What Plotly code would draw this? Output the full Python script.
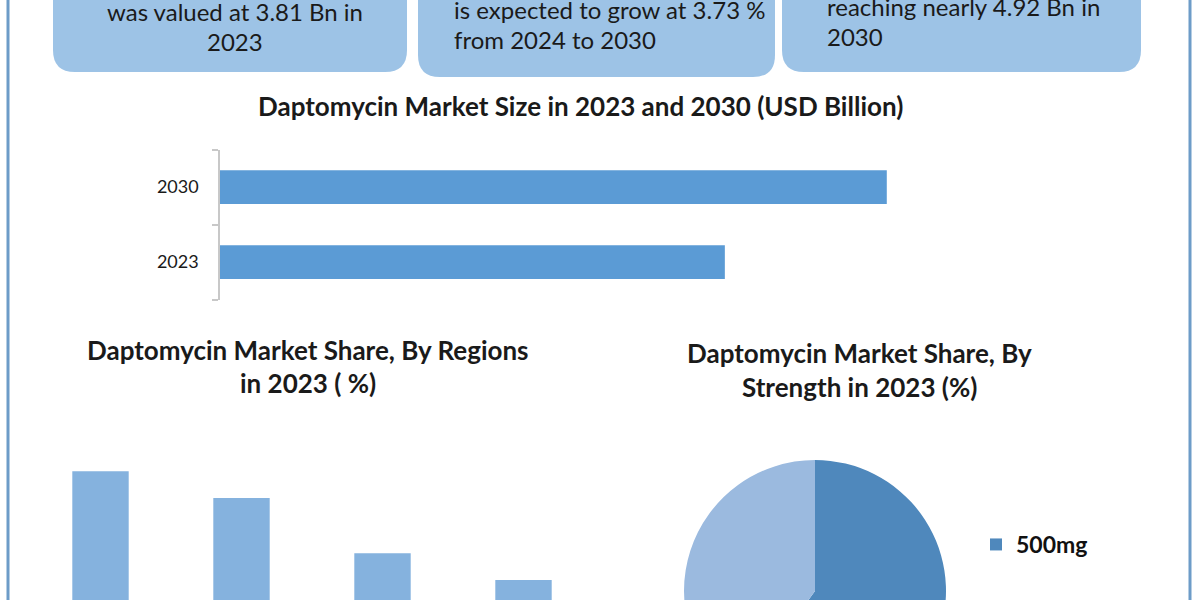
import plotly.graph_objects as go

# ---------------- data ----------------
size_years = ["2023", "2030"]
size_values = [3.81, 4.92]          # USD Billion

regions = ["North America", "Europe", "Asia Pacific", "Middle East and Africa"]
region_share = [34.6, 29.1, 17.8, 12.3]   # % (estimated, baseline cropped)

strengths = ["500mg", "350mg"]
strength_share = [60, 40]           # % (estimated)

box_texts = [
    ["was valued at 3.81 Bn in", "2023"],
    ["is expected to grow at 3.73 %", "from 2024 to 2030"],
    ["reaching nearly 4.92 Bn in", "2030"],
]
title_size = "Daptomycin Market Size in 2023 and 2030 (USD Billion)"
title_regions = ["Daptomycin Market Share, By Regions", "in 2023 ( %)"]
title_strength = ["Daptomycin Market Share, By", "Strength in 2023 (%)"]

# ---------------- geometry helpers ----------------
W, H = 1200, 900
def X(px):
    return px / W
def Y(py):
    return 1 - py / H

FONT = "Lato"
TXT = "#1a1a1a"

fig = go.Figure()

# pie (strength)
fig.add_trace(go.Pie(
    labels=strengths, values=strength_share,
    marker=dict(colors=["#4F88BC", "#9BBADF"], line=dict(width=0)),
    sort=False, direction="clockwise", rotation=0,
    textinfo="none", hoverinfo="label+percent",
    domain=dict(x=[X(684), X(946)], y=[Y(722), Y(460)]),
    showlegend=True,
))

# horizontal bars (market size)
fig.add_trace(go.Bar(
    y=size_years, x=size_values, orientation="h",
    marker=dict(color="#5B9BD5", line=dict(width=0)),
    width=0.45, xaxis="x", yaxis="y", showlegend=False,
))

# vertical bars (regions)
fig.add_trace(go.Bar(
    x=regions, y=region_share, name="Regions",
    marker=dict(color="#85B2DE", line=dict(width=0)),
    width=0.4, xaxis="x2", yaxis="y2",
    showlegend=True, legendgroup="regions",
))

shapes = []
# outer frame lines
for xp in (8, 1190):
    shapes.append(dict(type="line", xref="paper", yref="paper",
                       x0=X(xp), x1=X(xp), y0=-0.1, y1=1.1,
                       line=dict(color="#6D9CC8", width=3)))

# rounded boxes at top
def rounded_box(x0, x1, y0, y1, r):
    p = (f"M {X(x0)} {Y(y0)} "
         f"L {X(x0)} {Y(y1 - r)} "
         f"Q {X(x0)} {Y(y1)} {X(x0 + r)} {Y(y1)} "
         f"L {X(x1 - r)} {Y(y1)} "
         f"Q {X(x1)} {Y(y1)} {X(x1)} {Y(y1 - r)} "
         f"L {X(x1)} {Y(y0)} Z")
    return dict(type="path", xref="paper", yref="paper", path=p,
                fillcolor="#9DC3E6", line=dict(width=0), layer="below")

shapes.append(rounded_box(53, 407, -60, 72, 22))
shapes.append(rounded_box(418, 775, -60, 77, 22))
shapes.append(rounded_box(782, 1141, -60, 72, 22))

annotations = []
def txt(s, x, y, size, bold=False, xanchor="center"):
    annotations.append(dict(
        text=s, xref="paper", yref="paper", x=X(x), y=Y(y),
        xanchor=xanchor, yanchor="middle", showarrow=False,
        font=dict(family=FONT, size=size, color=TXT,
                  weight="bold" if bold else "normal"),
    ))

# box texts
txt(box_texts[0][0], 235, 12, 24)
txt(box_texts[0][1], 235, 41, 24)
txt(box_texts[1][0], 452, 10, 24, xanchor="left")
txt(box_texts[1][1], 452, 40, 24, xanchor="left")
txt(box_texts[2][0], 825, 7, 24, xanchor="left")
txt(box_texts[2][1], 825, 37, 24, xanchor="left")

# chart titles
txt(title_size, 580, 106, 26, bold=True)
txt(title_regions[0], 308, 350, 26, bold=True)
txt(title_regions[1], 308, 383, 26, bold=True)
txt(title_strength[0], 859, 353, 26, bold=True)
txt(title_strength[1], 859, 387, 26, bold=True)

fig.update_layout(
    width=W, height=H,
    margin=dict(l=0, r=0, t=0, b=0),
    paper_bgcolor="white", plot_bgcolor="white",
    font=dict(family=FONT, color=TXT),
    xaxis=dict(domain=[X(220), X(1000)], range=[0.3496, 5.696],
               visible=False, anchor="y"),
    yaxis=dict(domain=[Y(299.5), Y(149.5)], type="category",
               range=[-0.5, 1.5], anchor="x",
               showline=True, linecolor="#C8C8C8", linewidth=1.5,
               ticks="outside", tickson="boundaries", ticklen=6,
               tickcolor="#C8C8C8", tickwidth=1.5,
               showgrid=False, zeroline=False,
               ticklabelstandoff=16,
               tickfont=dict(family=FONT, size=18, color=TXT)),
    xaxis2=dict(domain=[X(30), X(594)], type="category",
                visible=False, anchor="y2"),
    yaxis2=dict(domain=[Y(640), Y(440)], range=[0, 41.0],
                visible=False, anchor="x2"),
    showlegend=True,
    legend=dict(x=X(976), y=Y(523), xanchor="left", yanchor="top",
                bgcolor="rgba(0,0,0,0)", traceorder="grouped",
                tracegroupgap=80,
                font=dict(family=FONT, size=23, color="#111111",
                          weight="bold")),
    shapes=shapes,
    annotations=annotations,
)

fig.write_html("out.html")
